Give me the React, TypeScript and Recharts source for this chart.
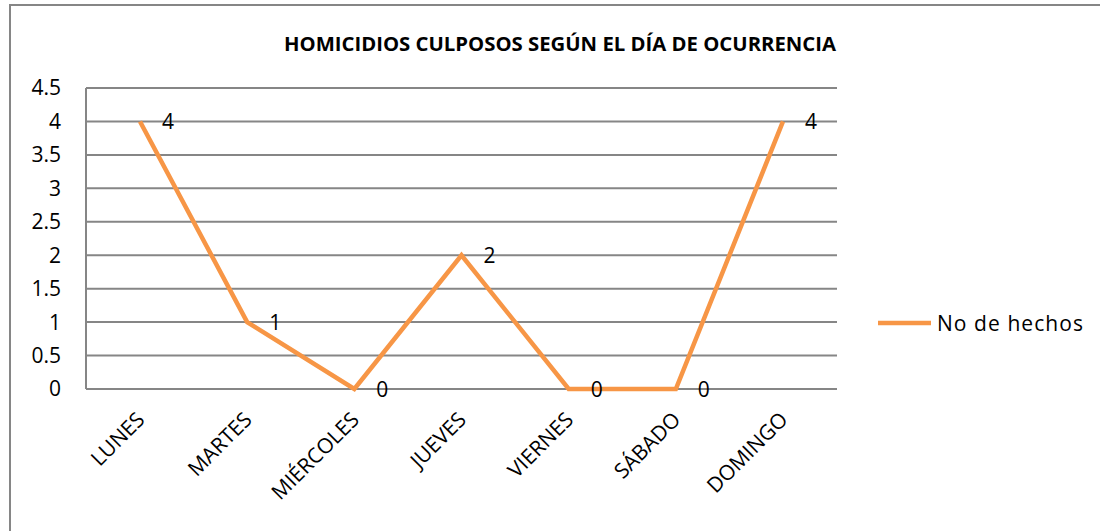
import React from 'react';
import {
  LineChart,
  Line,
  XAxis,
  YAxis,
  CartesianGrid,
  LabelList,
  Customized
} from 'recharts';

const days = ['LUNES', 'MARTES', 'MIÉRCOLES', 'JUEVES', 'VIERNES', 'SÁBADO', 'DOMINGO'];
const hechos = [4, 1, 0, 2, 0, 0, 4];
const yTicks = [0, 0.5, 1, 1.5, 2, 2.5, 3, 3.5, 4, 4.5];

const data = days.map((day, i) => ({ day, hechos: hechos[i] }));

const FONT = '"Open Sans", "Liberation Sans", sans-serif';
const GRAY = '#868686';
const ORANGE = '#F79646';

const DayTick = (props: any) => {
  const { x, y, payload } = props;
  return (
    <g transform={`translate(${x + 6},${y + 24})`}>
      <text
        transform="rotate(-45)"
        textAnchor="end"
        fontFamily={FONT}
        fontSize={21}
        fill="#000"
      >
        {payload.value}
      </text>
    </g>
  );
};

const PointLabel = (props: any) => {
  const { x, y, value } = props;
  return (
    <text x={x + 22} y={y} dy={8} fontFamily={FONT} fontSize={21} fill="#000">
      {value}
    </text>
  );
};

// title and legend drawn in the svg
const Decor = () => (
  <g>
    <text
      x={560}
      y={51}
      textAnchor="middle"
      fontFamily={FONT}
      fontWeight="bold"
      fontSize={19}
      textLength={552}
      lengthAdjust="spacingAndGlyphs"
      fill="#000"
    >
      HOMICIDIOS CULPOSOS SEGÚN EL DÍA DE OCURRENCIA
    </text>
    <line x1={878} y1={323} x2={931} y2={323} stroke={ORANGE} strokeWidth={4.5} />
    <text x={937} y={323} dy={8} fontFamily={FONT} fontSize={21} textLength={146} fill="#000">
      No de hechos
    </text>
  </g>
);

const App = () => {
  return (
    <div style={{ position: 'absolute', left: 0, top: 0, width: 1100, height: 531, overflow: 'hidden', background: '#fff' }}>
      <div
        style={{
          position: 'absolute',
          left: 9,
          top: 4,
          width: 1120,
          height: 600,
          border: `2px solid ${GRAY}`
        }}
      />
      <div style={{ position: 'absolute', left: 0, top: 0 }}>
        <LineChart
          width={1100}
          height={531}
          data={data}
          margin={{ top: 88, right: 263, left: 26, bottom: 0 }}
        >
          <CartesianGrid vertical={false} stroke={GRAY} strokeWidth={2} />
          <XAxis
            dataKey="day"
            height={142}
            axisLine={false}
            tickLine={false}
            interval={0}
            padding={{ left: 54, right: 54 }}
            tick={<DayTick />}
          />
          <YAxis
            width={60}
            domain={[0, 4.5]}
            ticks={yTicks}
            interval={0}
            axisLine={{ stroke: GRAY, strokeWidth: 2 }}
            tickLine={false}
            tickSize={6}
            tickMargin={19}
            tick={{ fontFamily: FONT, fontSize: 21, fill: '#000' }}
          />
          <Line
            type="linear"
            dataKey="hechos"
            name="No de hechos"
            stroke={ORANGE}
            strokeWidth={4.5}
            dot={false}
            activeDot={false}
            isAnimationActive={false}
          >
            <LabelList dataKey="hechos" content={<PointLabel />} />
          </Line>
          <Customized component={Decor} />
        </LineChart>
      </div>
    </div>
  );
};

export default App;
